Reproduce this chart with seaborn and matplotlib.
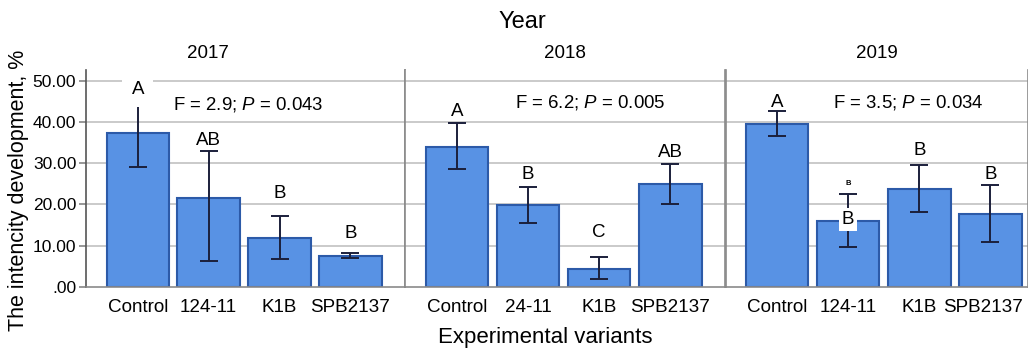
import matplotlib
matplotlib.use("Agg")
import matplotlib.pyplot as plt
import matplotlib.transforms as mtransforms
import seaborn as sns
import pandas as pd
import numpy as np

# ---------------- data ----------------
years = ["2017", "2018", "2019"]
variants_2017 = ["Control", "124-11", "K1B", "SPB2137"]
variants_2018 = ["Control", "24-11", "K1B", "SPB2137"]
variants_2019 = ["Control", "124-11", "K1B", "SPB2137"]

mean_2017 = [37.4, 21.5, 11.9, 7.4]
lo_2017 = [29.0, 6.4, 6.9, 7.1]
hi_2017 = [45.9, 33.0, 17.1, 8.2]

mean_2018 = [34.0, 19.8, 4.4, 24.9]
lo_2018 = [28.6, 15.5, 1.9, 20.1]
hi_2018 = [39.8, 24.2, 7.3, 29.8]

mean_2019 = [39.6, 15.9, 23.8, 17.6]
lo_2019 = [36.6, 9.6, 18.2, 10.8]
hi_2019 = [42.6, 22.5, 29.5, 24.8]

letters_2017 = ["A", "AB", "B", "B"]
letters_2018 = ["A", "B", "C", "AB"]
letters_2019 = ["A", "B", "B", "B"]

stats_text = ["F = 2.9; $\\mathit{P}$ = 0.043",
              "F = 6.2; $\\mathit{P}$ = 0.005",
              "F = 3.5; $\\mathit{P}$ = 0.034"]

yticks = [0, 10, 20, 30, 40, 50]

# annotation positions (data units)
letter_y = [[47.9, 35.6, 22.7, 13.0],
            [42.5, 27.3, 13.2, 32.5],
            [44.7, 16.4, 33.0, 27.3]]
stats_pos = [(1.56, 44.3), (1.87, 44.8), (1.85, 44.8)]
title_x_px = [208, 565, 877]

# ---------------- style ----------------
sns.set_theme(style="white")
plt.rcParams["font.family"] = ["Liberation Sans", "DejaVu Sans"]
plt.rcParams["mathtext.fontset"] = "custom"
plt.rcParams["mathtext.it"] = "Liberation Sans:italic"
plt.rcParams["mathtext.rm"] = "Liberation Sans"
plt.rcParams["text.color"] = "black"

FILL = "#5892e4"
EDGE = "#2c5aa8"
ERR = "#1b1f3b"
GRID = "#c6c6c6"
SPINE = "#8a8a8a"

W, H = 1028, 350
fig = plt.figure(figsize=(W / 100, H / 100), dpi=100)

panels = [
    (variants_2017, mean_2017, lo_2017, hi_2017, letters_2017, (86, 405), (-0.73, 3.77)),
    (variants_2018, mean_2018, lo_2018, hi_2018, letters_2018, (405, 725), (-0.73, 3.77)),
    (variants_2019, mean_2019, lo_2019, hi_2019, letters_2019, (726, 1028), (-0.72, 3.53)),
]
top_px, bot_px = 70, 287

for i, (vars_, mean, lo, hi, letters, (x0, x1), xl) in enumerate(panels):
    ax = fig.add_axes([x0 / W, (H - bot_px) / H, (x1 - x0) / W, (bot_px - top_px) / H])
    df = pd.DataFrame({"variant": vars_, "mean": mean})
    sns.barplot(data=df, x="variant", y="mean", ax=ax, color=FILL,
                edgecolor=EDGE, linewidth=1.5, width=0.88, errorbar=None,
                saturation=1, zorder=2)
    m = np.array(mean); l = np.array(lo); h = np.array(hi)
    ax.errorbar(np.arange(len(vars_)), m, yerr=[m - l, h - m], fmt="none",
                ecolor=ERR, elinewidth=1.4, capsize=6.5, capthick=1.4, zorder=3)
    ax.set_ylim(0, 52.6)
    ax.set_xlim(*xl)
    ax.set_yticks(yticks)
    for yv in yticks[1:]:
        ax.axhline(yv, color=GRID, lw=1.3, zorder=0)
    ax.set_xlabel("")
    ax.set_ylabel("")
    ax.set_xticks(range(len(vars_)))
    ax.set_xticklabels(vars_)
    ax.tick_params(axis="x", length=0, labelsize=13.6, pad=9, colors="black")
    if i == 2:
        lab = ax.xaxis.get_major_ticks()[-1].label1
        lab.set_transform(lab.get_transform() +
                          mtransforms.ScaledTranslation(-5 / 72, 0, fig.dpi_scale_trans))
    if i == 0:
        ax.set_yticklabels([".00" if v == 0 else f"{v:.2f}" for v in yticks])
        ax.tick_params(axis="y", length=5, color=SPINE, labelsize=12.5, pad=2,
                       left=True, labelcolor="black")
    else:
        ax.tick_params(axis="y", left=False, labelleft=False)
    ax.spines["top"].set_visible(False)
    for s in ["left", "right", "bottom"]:
        ax.spines[s].set_color(SPINE)
        ax.spines[s].set_linewidth(1.2)
    if i == 0:
        ax.spines["left"].set_color("#555555")

    # letters
    for j, (lt, ly) in enumerate(zip(letters, letter_y[i])):
        if i == 2 and j == 1:
            ax.text(j, ly, lt, ha="center", va="center", fontsize=13.5, zorder=5,
                    bbox=dict(boxstyle="square,pad=0.15", fc="white", ec="none"))
            ax.text(j, 25.2, lt, ha="center", va="center", fontsize=5.5,
                    fontweight="bold", zorder=5)
        elif i == 0 and j == 0:
            ax.text(j, ly, lt, ha="center", va="center", fontsize=13.5, zorder=5,
                    bbox=dict(boxstyle="square,pad=0.5", fc="white", ec="none"))
        else:
            ax.text(j, ly, lt, ha="center", va="center", fontsize=13.5, zorder=5)
    sx, sy = stats_pos[i]
    ax.text(sx, sy, stats_text[i], ha="center", va="center", fontsize=13.4, zorder=5)

    fig.text(title_x_px[i] / W, 1 - 53 / H, years[i], ha="center", va="center", fontsize=13.5)

fig.text(522 / W, 1 - 22 / H, "Year", ha="center", va="center", fontsize=17)
fig.text(545 / W, 1 - 338 / H, "Experimental variants", ha="center", va="center", fontsize=16)
fig.text(19 / W, 1 - 190 / H, "The intencity development, %", ha="center", va="center",
         rotation=90, fontsize=15.5)

fig.savefig("out.png", dpi=100)
